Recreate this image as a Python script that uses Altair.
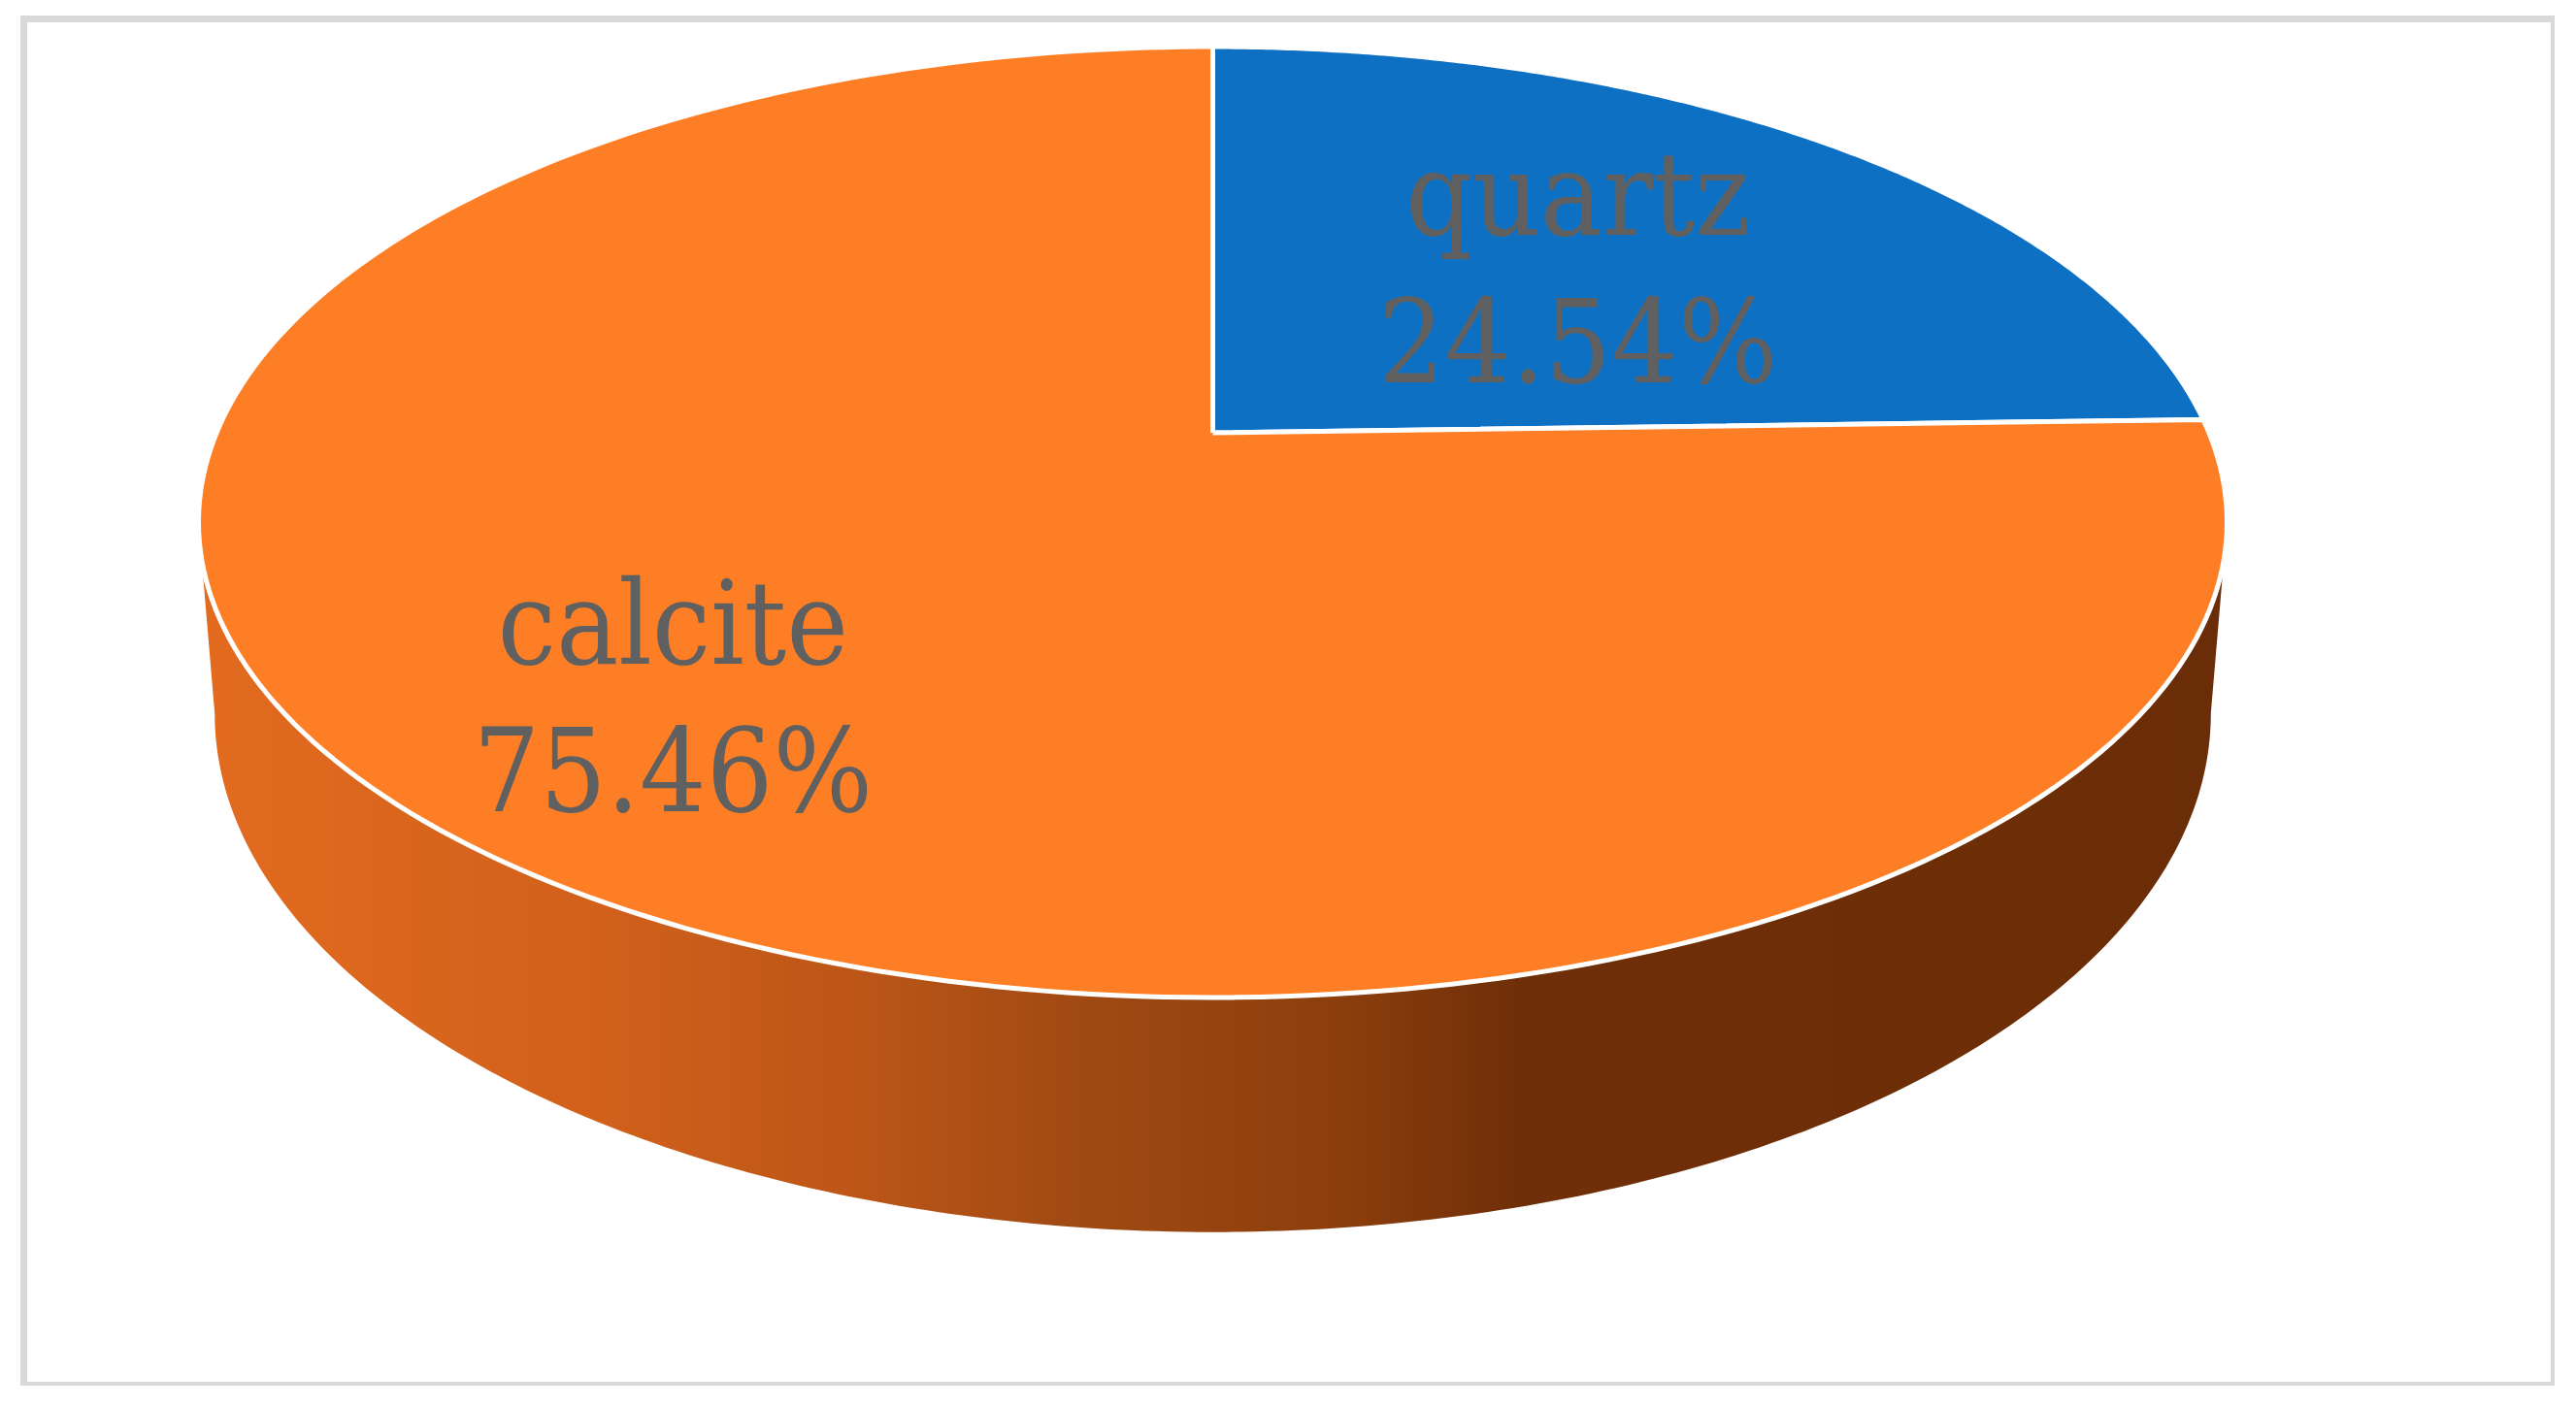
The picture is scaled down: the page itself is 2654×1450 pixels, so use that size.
import math
import altair as alt
import pandas as pd

# ---- data ----
categories = ["quartz", "calcite"]
values = [24.54, 75.46]
slice_colors = ["#0E70C3", "#FD7E25"]

# ---- layout / style constants (reference pixel space) ----
CX, CY = 1249.5, 446.0          # projected pie centre (top face)
A, B, K = 1026.4, 472.7, 0.1878  # top face perspective ellipse
AB, BB, CYB = 1010.0, 515.5, 635.0  # bottom face (side depth)
X0, X1, Y0, Y1 = 24.5, 2631.5, 19.5, 1427.5
N = 240
M = 240
TR = math.acos(-K)
TL = 2 * math.pi - TR
LABEL_RADIUS = {"quartz": 0.566, "calcite": 0.704}

df = pd.DataFrame({"category": categories, "value": values, "idx": list(range(len(categories)))})

xs = alt.X("px:Q", scale=alt.Scale(domain=[X0, X1], nice=False, zero=False), axis=None)
ys = alt.Y("py:Q", scale=alt.Scale(domain=[Y1, Y0], nice=False, zero=False), axis=None)

base = (
    alt.Chart(df)
    .transform_joinaggregate(total="sum(value)")
    .transform_window(cum="sum(value)", sort=[alt.SortField("idx")], frame=[None, 0])
    .transform_calculate(a0="2 * PI * (datum.cum - datum.value) / datum.total")
    .transform_calculate(a1="2 * PI * datum.cum / datum.total")
)

# ---- side (visible front wall) ----
side = (
    base.transform_calculate(s=f"max(datum.a0, {TR})")
    .transform_calculate(e=f"min(datum.a1, {TL})")
    .transform_filter("datum.e > datum.s")
    .transform_calculate(step=f"sequence(0, {2 * M + 2})")
    .transform_flatten(["step"])
    .transform_calculate(istop=f"datum.step <= {M}")
    .transform_calculate(
        th=f"datum.istop ? datum.s + (datum.e - datum.s) * datum.step / {M} : datum.e - (datum.e - datum.s) * (datum.step - {M} - 1) / {M}"
    )
    .transform_calculate(u="sin(datum.th)")
    .transform_calculate(v="cos(datum.th)")
    .transform_calculate(
        px=f"datum.istop ? {CX} + {A} * datum.u / (1 + {K} * datum.v) : {CX} + {AB} * datum.u / (1 + {K} * datum.v)"
    )
    .transform_calculate(
        py=f"datum.istop ? {CY} - {B} * datum.v / (1 + {K} * datum.v) : {CYB} - {BB} * datum.v / (1 + {K} * datum.v)"
    )
    .mark_line(
        fill=alt.Gradient(
            gradient="linear",
            x1=0, x2=1, y1=0, y2=0,
            stops=[
                alt.GradientStop(color="#e26b1f", offset=0),
                alt.GradientStop(color="#d1601b", offset=0.2),
                alt.GradientStop(color="#bb5517", offset=0.33),
                alt.GradientStop(color="#a14a13", offset=0.43),
                alt.GradientStop(color="#96440f", offset=0.5),
                alt.GradientStop(color="#8a3d0c", offset=0.57),
                alt.GradientStop(color="#6f2f08", offset=0.65),
                alt.GradientStop(color="#6b2d07", offset=1),
            ],
        ),
        strokeOpacity=0,
        strokeWidth=0,
    )
    .encode(x=xs, y=ys, order="step:Q", detail="category:N")
)

# ---- top face slices ----
top = (
    base.transform_calculate(step=f"sequence(0, {N + 3})")
    .transform_flatten(["step"])
    .transform_calculate(r=f"(datum.step == 0 || datum.step == {N + 2}) ? 0 : 1")
    .transform_calculate(th=f"datum.a0 + (datum.a1 - datum.a0) * clamp(datum.step - 1, 0, {N}) / {N}")
    .transform_calculate(u="datum.r * sin(datum.th)")
    .transform_calculate(v="datum.r * cos(datum.th)")
    .transform_calculate(px=f"{CX} + {A} * datum.u / (1 + {K} * datum.v)")
    .transform_calculate(py=f"{CY} - {B} * datum.v / (1 + {K} * datum.v)")
    .mark_line(stroke="white", strokeWidth=5, strokeJoin="miter")
    .encode(
        x=xs,
        y=ys,
        order="step:Q",
        detail="category:N",
        fill=alt.Fill("category:N", scale=alt.Scale(domain=categories, range=slice_colors), legend=None),
    )
)

# ---- labels ----
lr_expr = " : ".join(f"datum.category == '{c}' ? {r}" for c, r in LABEL_RADIUS.items()) + " : 0.6"
labels = (
    base.transform_calculate(mid="(datum.a0 + datum.a1) / 2")
    .transform_calculate(lr=lr_expr)
    .transform_calculate(u="datum.lr * sin(datum.mid)")
    .transform_calculate(v="datum.lr * cos(datum.mid)")
    .transform_calculate(px=f"{CX} + {A} * datum.u / (1 + {K} * datum.v)")
    .transform_calculate(py=f"{CY} - {B} * datum.v / (1 + {K} * datum.v)")
    .transform_calculate(label="datum.category + '\\n' + format(datum.value, '.2f') + '%'")
    .mark_text(
        font="DejaVu Serif Condensed, DejaVu Serif",
        fontSize=120,
        color="#606060",
        lineBreak="\n",
        lineHeight=152,
        align="center",
        baseline="alphabetic",
        dy=-26,
    )
    .encode(x=xs, y=ys, text="label:N")
)

chart = (
    alt.layer(side, top, labels)
    .properties(
        width=X1 - X0,
        height=Y1 - Y0,
        autosize="none",
        padding={"left": 16.5, "top": 11.5, "right": 0, "bottom": 0},
        background="white",
    )
    .configure_view(stroke="#d9d9d9", strokeWidth=7)
)

chart.save("out.html", embed_options={"renderer": "svg", "actions": False})
